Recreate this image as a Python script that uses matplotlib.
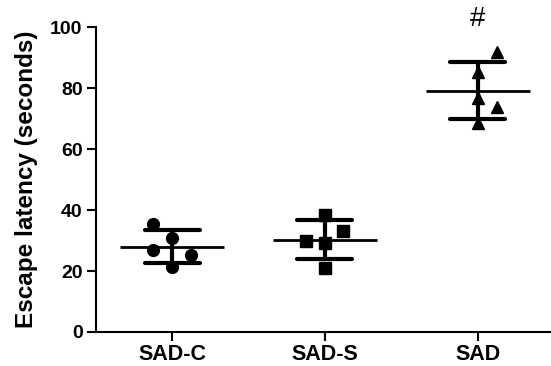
import numpy as np
import matplotlib
matplotlib.use("Agg")
import matplotlib.pyplot as plt

plt.rcParams['font.family'] = ['Liberation Sans', 'DejaVu Sans']

# Data (escape latency, seconds)
groups = ["SAD-C", "SAD-S", "SAD"]
sad_c = [35.3, 30.9, 26.9, 25.2, 21.4]
sad_s = [38.4, 33.1, 29.9, 29.1, 21.1]
sad = [91.9, 85.3, 76.6, 73.7, 68.4]
markers = ["o", "s", "^"]
sig_labels = ["", "", "#"]


def plot_scatter(ax, values_list):
    # horizontal spread of the points inside each column (GraphPad style)
    spreads = [
        [-0.125, 0.0, -0.125, 0.125, 0.0],
        [0.0, 0.12, -0.125, 0.0, 0.0],
        [0.125, 0.0, 0.0, 0.125, 0.0],
    ]
    msizes = [8.5, 8.5, 9]
    for i, vals in enumerate(values_list):
        x0 = i + 1
        vals = np.array(vals)
        xs = x0 + np.array(spreads[i])
        ax.plot(xs, vals, linestyle="none", marker=markers[i], color="black",
                markersize=msizes[i], zorder=3)
        mean = vals.mean()
        sd = vals.std(ddof=1)
        # mean line
        ax.plot([x0 - 0.34, x0 + 0.34], [mean, mean], color="black", lw=2,
                solid_capstyle="butt", zorder=4)
        # SD bar
        ax.plot([x0, x0], [mean - sd, mean + sd], color="black", lw=3,
                solid_capstyle="butt", zorder=4)
        for y in (mean - sd, mean + sd):
            ax.plot([x0 - 0.18, x0 + 0.18], [y, y], color="black", lw=3,
                    solid_capstyle="round", zorder=4)
        if sig_labels[i]:
            ax.text(x0, 98.3, sig_labels[i], ha="center", va="bottom",
                    fontsize=20, clip_on=False)


fig = plt.figure(figsize=(5.51, 3.66), dpi=100)
ax = fig.add_axes([0.1737, 0.0929, 0.8263, 0.8333])

plot_scatter(ax, [sad_c, sad_s, sad])

ax.set_xlim(0.5, 3.48)
ax.set_ylim(0, 100)
ax.set_yticks([0, 20, 40, 60, 80, 100])
ax.set_xticks([1, 2, 3])
ax.set_xticklabels(groups, fontsize=15.5, fontweight="bold")
for lab in ax.get_yticklabels():
    lab.set_fontsize(14)
    lab.set_fontweight("bold")
ax.set_ylabel("Escape latency (seconds)", fontsize=17.5, fontweight="bold",
              labelpad=9)

for side in ("top", "right"):
    ax.spines[side].set_visible(False)
for side in ("left", "bottom"):
    ax.spines[side].set_linewidth(1.5)
ax.tick_params(axis="both", direction="out", length=6.5, width=1.5)
ax.tick_params(axis="y", pad=3)
ax.tick_params(axis="x", pad=2)

fig.savefig("out.png", dpi=100)
